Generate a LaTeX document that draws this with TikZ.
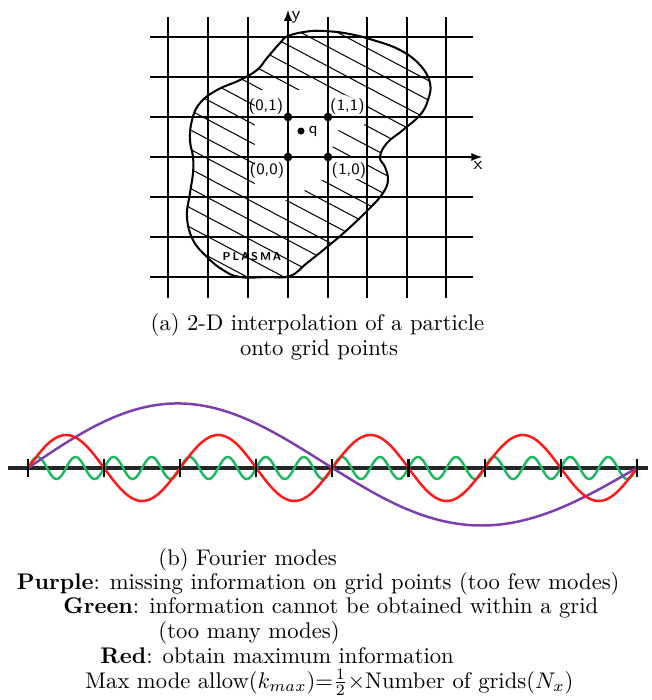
\documentclass[tikz,border=0pt]{standalone}
\usepackage{amsmath}
\usetikzlibrary{positioning}
\definecolor{modered}{HTML}{FF1A1A}
\definecolor{modegreen}{HTML}{1DB860}
\definecolor{modepurple}{HTML}{7B3FB0}
\begin{document}
\begin{tikzpicture}[x=0.442pt,y=-0.442pt,
		gridline/.style={line width=0.65pt},
		hatch/.style={line width=0.45pt},
		gridpt/.style={circle,fill,inner sep=0pt,minimum size=3.8pt},
		ptlabel/.style={font=\sffamily\scriptsize,inner sep=1pt},
		capline/.style={anchor=base west,inner sep=0pt},
		mode/.style={line width=1.1pt}]
		\useasboundingbox (0,0) rectangle (652,700);

		% hatching inside the plasma
		\begin{scope}
			\clip plot[smooth cycle,tension=0.7] coordinates {(288,36) (307,31.5) (324,31) (347,33.5) (373,40) (400,50) (420,65) (430,83) (428,100) (420,115) (403,130) (387,143) (380,157) (385,167) (388,180) (383,193) (370,208) (347,230) (327,247) (307,263) (290,276) (267,277) (240,277) (223,270) (207,257) (193,240) (187,217) (190,193) (193,173) (193,157) (190,140) (192,120) (200,103) (217,90) (240,80) (257,70) (267,58) (280,43)};
			\foreach \k in {-13,...,5} {\draw[hatch] (180,{68+19.5*\k+0.53*180}) -- (440,{68+19.5*\k+0.53*440});}
			\fill[white] (255,100) -- (258,90) -- (302,90) -- (345,95) -- (368,105) -- (364,126) -- (334,131) -- (332,155) -- (368,158) -- (366,178) -- (345,180) -- (318,180) -- (292,200) -- (255,200) -- cycle;
		\end{scope}

		% grid
		\foreach \x in {168,208,248,328,367,407,446} {\draw[gridline] (\x,17) -- (\x,298);}
		\foreach \y in {37,77,117,197,237,277} {\draw[gridline] (150,\y) -- (473,\y);}
		\draw[gridline,-latex] (150,157) -- (482,157);
		\draw[gridline,-latex] (288,298) -- (288,10);
		\node[font=\sffamily\footnotesize] (xlab) at (478,165) {x};
		\node[font=\sffamily\footnotesize] (ylab) at (296,17) {y};

		% plasma boundary
		\draw[line width=0.9pt] plot[smooth cycle,tension=0.7] coordinates {(288,36) (307,31.5) (324,31) (347,33.5) (373,40) (400,50) (420,65) (430,83) (428,100) (420,115) (403,130) (387,143) (380,157) (385,167) (388,180) (383,193) (370,208) (347,230) (327,247) (307,263) (290,276) (267,277) (240,277) (223,270) (207,257) (193,240) (187,217) (190,193) (193,173) (193,157) (190,140) (192,120) (200,103) (217,90) (240,80) (257,70) (267,58) (280,43)};

		\node[gridpt] (p00) at (288,157) {};
		\node[gridpt] (p01) at (288,117) {};
		\node[gridpt] (p10) at (328,157) {};
		\node[gridpt] (p11) at (328,117) {};
		\node[gridpt,minimum size=3.1pt] (q) at (301,131) {};
		\node[ptlabel,right=0.5pt of q] (qlab) {q};

		\node[ptlabel] (l01) at (266,107) {(0,1)};
		\node[ptlabel] (l11) at (347.5,107) {(1,1)};
		\node[ptlabel] (l00) at (267,171) {(0,0)};
		\node[ptlabel] (l10) at (349,171) {(1,0)};
		\node[font=\sffamily\tiny\bfseries] (plasma) at (252,257) {P\,L\,A\,S\,M\,A};

		\node[anchor=base,inner sep=0pt] (capa) at (317.5,330) {(a) 2-D interpolation of a particle};
		\node[anchor=base,inner sep=0pt] (capa2) at (319,355) {onto grid points};

		% Fourier modes
		\draw[line width=1.4pt,black!85] (8,468) -- (648,468);
		\draw[mode,modegreen] plot[domain=28:637,samples=600,smooth] (\x,{468-11*sin(9.4612*(\x-28))});
		\draw[mode,modepurple] plot[domain=28:637,samples=200,smooth] (\x,{468-(61+5*cos(0.29566*(\x-28)))*sin(0.59133*(\x-28))});
		\draw[mode,modered] plot[domain=28:637,samples=300,smooth] (\x,{468-33*sin(2.3653*(\x-28))});
		\foreach \i in {0,...,8} {\draw[line width=0.9pt] ({28+76.1*\i},459) -- ({28+76.1*\i},477);}

		\node[capline] (capb) at (158,565) {(b) Fourier modes};
		\node[capline] (purple) at (16.5,589) {\textbf{Purple}: missing information on grid points (too few modes)};
		\node[capline] (green) at (63,613.5) {\textbf{Green}: information cannot be obtained within a grid};
		\node[capline] (green2) at (158,638) {(too many modes)};
		\node[capline] (red) at (100,663) {\textbf{Red}: obtain maximum information};
		\node[capline] (kmax) at (85,688) {Max mode allow($k_{max}$)=$\frac{1}{2}\times$Number of grids($N_x$)};
	\end{tikzpicture}
\end{document}
